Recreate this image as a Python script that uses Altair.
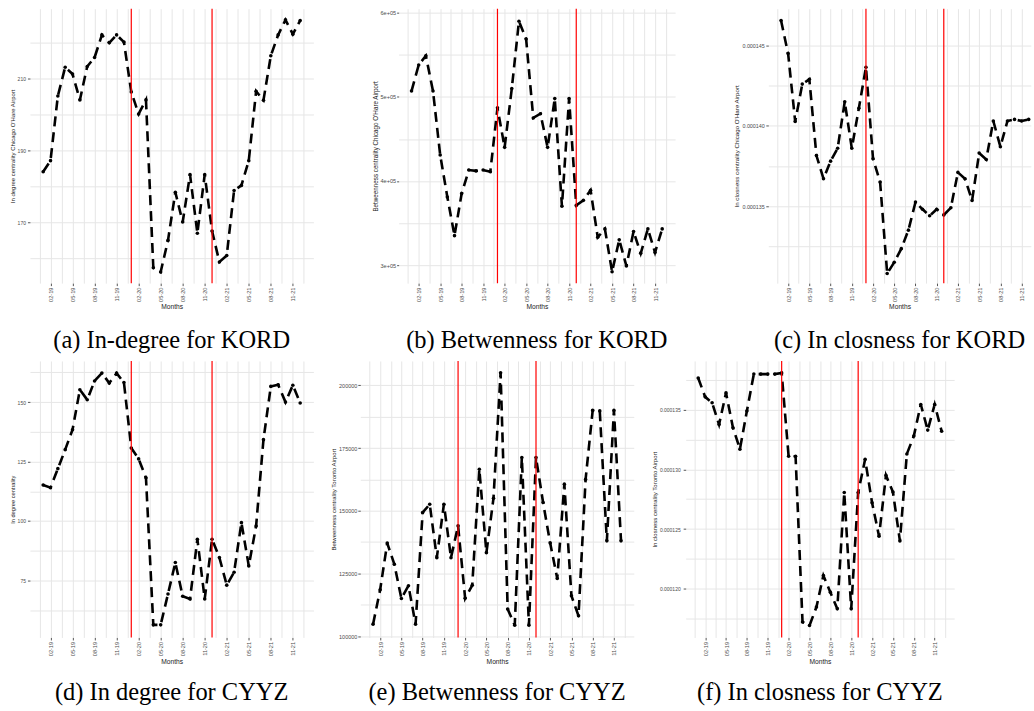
import altair as alt
import pandas as pd

# ---------------- data ----------------
months = list(range(1, 37))  # 1 = Jan 2019 ... 36 = Dec 2021
event_months = [13, 24]      # Jan 2020, Dec 2020

kord_indegree = [184.0, 187.1, 205.1, 213.1, 211.2, 204.0, 213.3, 215.8, 222.1, 219.9, 222.1, 220.1,
                 206.2, 200.1, 204.0, 157.3, 156.1, 164.9, 178.3, 170.0, 183.2, 166.9, 183.2, 167.5,
                 158.9, 160.7, 178.8, 180.2, 187.1, 206.4, 203.9, 216.3, 222.1, 226.3, 222.3, 226.1]
kord_betweenness = [507000, 538000, 549000, 507000, 431000, 381000, 335000, 385000, 413000, 412000, 413000, 411000,
                    487000, 440000, 510000, 590000, 569000, 475000, 480000, 440000, 498000, 370000, 498000, 371000,
                    377000, 389000, 333000, 343000, 292000, 330000, 299000, 340000, 314000, 343000, 315000, 343000]
kord_closeness = [146.56e-6, 144.5e-6, 140.27e-6, 142.6e-6, 142.9e-6, 138.15e-6, 136.7e-6, 137.8e-6, 138.6e-6, 141.5e-6, 138.6e-6, 141.1e-6,
                  143.65e-6, 137.95e-6, 136.5e-6, 130.8e-6, 131.5e-6, 132.35e-6, 133.5e-6, 135.25e-6, 134.8e-6, 134.4e-6, 134.8e-6, 134.45e-6,
                  134.9e-6, 137.1e-6, 136.7e-6, 135.35e-6, 138.3e-6, 137.9e-6, 140.3e-6, 138.7e-6, 140.3e-6, 140.4e-6, 140.3e-6, 140.4e-6]
cyyz_indegree = [115.1, 114.0, 122.0, 130.0, 138.4, 155.2, 151.0, 158.9, 162.2, 158.0, 162.2, 158.2,
                 130.7, 126.1, 118.2, 56.3, 56.3, 69.3, 82.5, 68.3, 67.2, 92.3, 67.2, 92.3,
                 84.6, 73.0, 78.4, 99.3, 81.1, 97.9, 134.2, 156.6, 157.3, 150.0, 157.1, 149.6]
cyyz_betweenness = [104800, 118500, 137100, 128700, 115000, 120100, 104800, 149300, 152600, 131300, 152600, 131300,
                    144000, 115100, 120300, 166500, 133300, 155000, 205000, 110800, 104400, 171200, 104400, 171200,
                    153300, 137100, 123000, 160600, 116100, 108100, 162500, 190000, 189800, 138000, 190000, 138000]
cyyz_closeness = [137.67e-6, 136.09e-6, 135.6e-6, 133.77e-6, 136.42e-6, 133.5e-6, 131.7e-6, 134.9e-6, 138.0e-6, 138.0e-6, 138.0e-6, 138.0e-6,
                  138.1e-6, 131.1e-6, 131.1e-6, 117.2e-6, 116.9e-6, 118.45e-6, 121.1e-6, 119.7e-6, 118.3e-6, 128.06e-6, 118.3e-6, 128.06e-6,
                  130.85e-6, 127.2e-6, 124.4e-6, 129.5e-6, 128.1e-6, 124.0e-6, 131.3e-6, 132.8e-6, 135.45e-6, 133.3e-6, 135.45e-6, 133.2e-6]

# x axis: labelled months and grid positions (major + minor)
x_tick_months = [2, 5, 8, 11, 14, 17, 20, 23, 26, 29, 32, 35]
x_tick_labels = ["02-19", "05-19", "08-19", "11-19", "02-20", "05-20", "08-20", "11-20",
                 "02-21", "05-21", "08-21", "11-21"]
x_grid = [0.5, 2, 3.5, 5, 6.5, 8, 9.5, 11, 12.5, 14, 15.5, 17, 18.5, 20, 21.5, 23, 24.5,
          26, 27.5, 29, 30.5, 32, 33.5, 35, 36.5]
x_grid_c = [0.5, 2, 3.5, 5, 6.5, 8, 9.5, 11, 12.5, 14, 15.5, 17, 18.5, 20, 21.5, 23, 24.5,
            26, 27.5, 29, 30.5, 32, 33.5, 35]

# y axes
a_grid = [160, 170, 180, 190, 200, 210, 220]
a_major = [170, 190, 210]
a_labels = ["170", "190", "210"]
b_grid = [300000, 350000, 400000, 450000, 500000, 550000, 600000]
b_major = [300000, 400000, 500000, 600000]
b_labels = ["3e+05", "4e+05", "5e+05", "6e+05"]
c_grid = [0.0001325, 0.000135, 0.0001375, 0.00014, 0.0001425, 0.000145]
c_major = [0.000135, 0.00014, 0.000145]
c_labels = ["0.000135", "0.000140", "0.000145"]
d_grid = [62.5, 75, 87.5, 100, 112.5, 125, 137.5, 150, 162.5]
d_major = [75, 100, 125, 150]
d_labels = ["75", "100", "125", "150"]
e_grid = [100000, 112500, 125000, 137500, 150000, 162500, 175000, 187500, 200000]
e_major = [100000, 125000, 150000, 175000, 200000]
e_labels = ["100000", "125000", "150000", "175000", "200000"]
f_grid = [0.0001175, 0.00012, 0.0001225, 0.000125, 0.0001275, 0.00013, 0.0001325, 0.000135, 0.0001375]
f_major = [0.00012, 0.000125, 0.00013, 0.000135]
f_labels = ["0.000120", "0.000125", "0.000130", "0.000135"]

GRID = "#e6e6e6"
LABEL = "#4d4d4d"
SANS = "Liberation Sans"


def arr(vals):
    return "[" + ",".join(repr(v) for v in vals) + "]"


def label_expr(vals, labels):
    v = arr(vals)
    l = "[" + ",".join("'" + s + "'" for s in labels) + "]"
    return f"indexof({v}, datum.value) >= 0 ? {l}[indexof({v}, datum.value)] : ''"


def tick_cond(vals):
    return {"condition": {"test": f"indexof({arr(vals)}, datum.value) >= 0", "value": 1}, "value": 0}


def panel(vals, ytitle, caption, ydom, ygrid, ymaj, ylab, w, h, xdom, xgrid,
          lfs, tfs, tick, lpad, extent, tpad, cap_off):
    df = pd.DataFrame({"month": months, "value": vals})
    ev = pd.DataFrame({"month": event_months})
    xaxis = alt.Axis(values=xgrid, labelExpr=label_expr(x_tick_months, x_tick_labels),
                     labelAngle=270, labelFontSize=5.6, labelColor=LABEL, labelFont=SANS,
                     labelOverlap=False, labelFlush=False, labelPadding=1.5,
                     title="Months", titleFont=SANS, titleFontSize=6.7, titleFontWeight="normal",
                     titleColor="#1a1a1a", titlePadding=2.5,
                     grid=True, gridColor=GRID, gridWidth=1, domain=False,
                     tickSize=2.5, tickColor="#555555", tickOpacity=tick_cond(x_tick_months))
    yaxis = alt.Axis(values=ygrid, labelExpr=label_expr(ymaj, ylab),
                     labelFontSize=lfs, labelColor=LABEL, labelFont=SANS,
                     labelOverlap=False, labelFlush=False, labelPadding=lpad,
                     title=ytitle, titleFont=SANS, titleFontSize=tfs, titleFontWeight="normal",
                     titleColor="#1a1a1a", titlePadding=tpad,
                     minExtent=extent, maxExtent=extent,
                     grid=True, gridColor=GRID, gridWidth=1, domain=False,
                     tickSize=tick, tickColor="#555555", tickOpacity=tick_cond(ymaj))
    x = alt.X("month:Q", scale=alt.Scale(domain=xdom, nice=False, zero=False), axis=xaxis)
    y = alt.Y("value:Q", scale=alt.Scale(domain=ydom, nice=False, zero=False), axis=yaxis)
    line = alt.Chart(df).mark_line(color="black", strokeWidth=2.6, strokeDash=[10, 6]).encode(x=x, y=y)
    pts = alt.Chart(df).mark_circle(color="black", size=13, opacity=1).encode(x=x, y=y)
    rules = alt.Chart(ev).mark_rule(color="red", strokeWidth=1.2).encode(x=x)
    return alt.layer(line, pts, rules).properties(
        width=w, height=h,
        title=alt.TitleParams(text=caption, orient="bottom", anchor="middle",
                              font="Liberation Serif", fontSize=24.5, fontWeight="normal",
                              color="black", offset=cap_off))


XD = [-0.8, 37.8]
H1, H2 = 275, 277

pa = panel(kord_indegree, "In degree centrality Chicago O'Hare Airport", "(a) In-degree for KORD",
           [153.0, 229.4], a_grid, a_major, a_labels, 284, H1, XD, x_grid,
           5, 6, 2.5, 2, 13, 1.3, 18.5)
pb = panel(kord_betweenness, "Betweenness centrality Chicago O'Hare Airport", "(b) Betwenness for KORD",
           [278500, 605000], b_grid, b_major, b_labels, 277, H1, XD, x_grid,
           5.6, 6.3, 2, 1, 18.5, 1.7, 18.5)
pc = panel(kord_closeness, "In closness centrality Chicago O'Hare Airport", "(c) In closness for KORD",
           [0.0001302, 0.0001473], c_grid, c_major, c_labels, 263, H1, [-0.8, 36.3], x_grid_c,
           5.4, 6.2, 2.5, 1.5, 26.5, 2, 18.5)
pd_ = panel(cyyz_indegree, "In degree centrality", "(d) In degree for CYYZ",
            [51.0, 167.3], d_grid, d_major, d_labels, 284, H2, XD, x_grid,
            5, 5.7, 2.5, 2, 13, 1.6, 16.5)
pe = panel(cyyz_betweenness, "Betweenness centrality Toronto Airport", "(e) Betwenness for CYYZ",
           [99500, 209700], e_grid, e_major, e_labels, 274, H2, XD, x_grid,
           5.5, 6, 2.5, 1, 21.6, 2.1, 16.5)
pf = panel(cyyz_closeness, "In closness centrality Toronto Airport", "(f) In closness for CYYZ",
           [0.0001159, 0.0001391], f_grid, f_major, f_labels, 269, H2, XD, x_grid,
           5, 6, 2.5, 3, 26.7, 2.0, 16.5)

row1 = alt.hconcat(pa, pb, pc, spacing=58.4)
row2 = alt.hconcat(pd_, pe, pf, spacing=17)

chart = alt.vconcat(row1, row2, spacing=7).properties(
    padding={"left": 9, "top": 7, "right": 0, "bottom": 0},
    background="white",
).configure_view(strokeOpacity=0)

chart.save("out.html", embed_options={"renderer": "svg", "actions": False})
